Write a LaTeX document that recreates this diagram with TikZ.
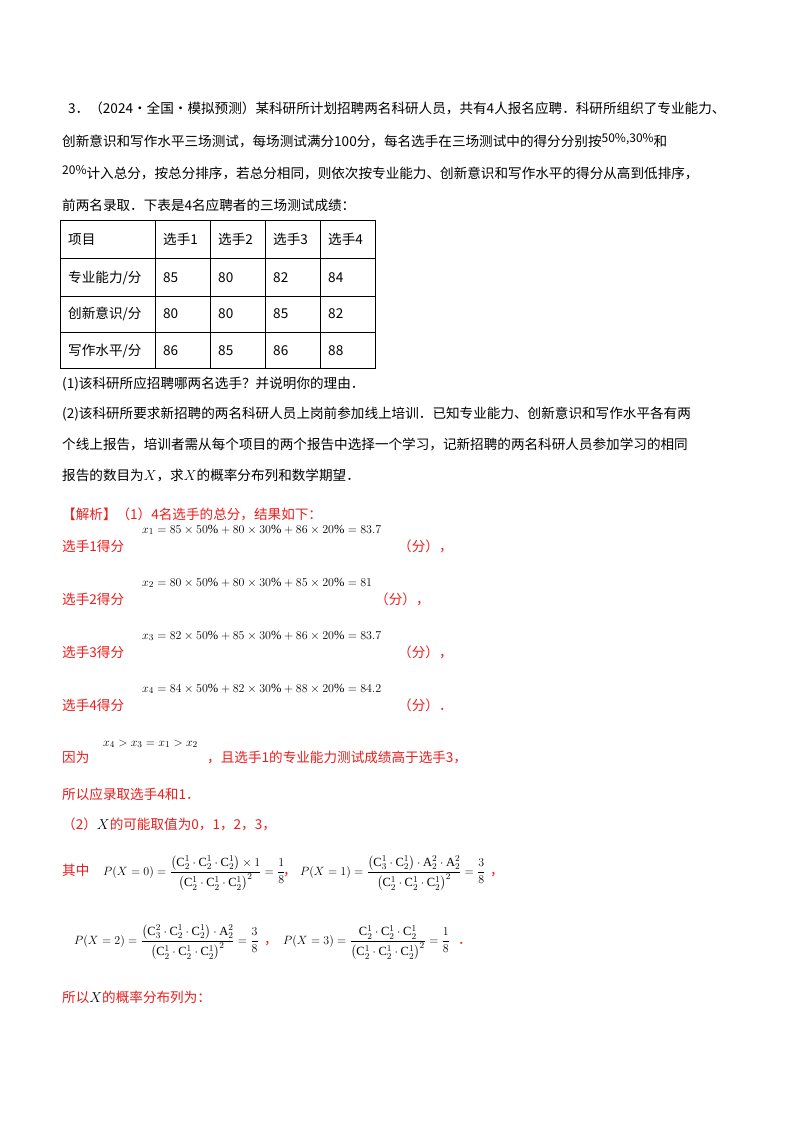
\documentclass[tikz,border=0pt]{standalone}
\usepackage{fontspec}
\setmainfont{Liberation Serif}
\newfontfamily\cjk{Noto Sans CJK SC}
\usepackage{amsmath}
\definecolor{ansred}{RGB}{235,30,30}
\newcommand{\pct}[1]{\raisebox{4pt}{\fontsize{12}{14}\selectfont #1}}
\begin{document}
\begin{tikzpicture}[x=1pt,y=-1pt,
  txt/.style={anchor=base west,inner sep=0pt,font=\cjk\fontsize{13.6}{15}\selectfont},
  mth/.style={anchor=base west,inner sep=0pt,font=\fontsize{12.5}{14}\selectfont},
  rtxt/.style={txt,text=ansred},
  cell/.style={anchor=base west,inner sep=0pt,font=\cjk\fontsize{13.6}{15}\selectfont}]
\useasboundingbox (0,0) rectangle (800,1132);
\fill[white] (0,0) rectangle (800,1132);
\node[txt] (l1) at (68,113) {3．（2024·全国·模拟预测）某科研所计划招聘两名科研人员，共有4人报名应聘．科研所组织了专业能力、};
\node[txt] (l2) at (62,146) {创新意识和写作水平三场测试，每场测试满分100分，每名选手在三场测试中的得分分别按\pct{50\%,30\%}和};
\node[txt] (l3) at (62,178) {\pct{20\%}计入总分，按总分排序，若总分相同，则依次按专业能力、创新意识和写作水平的得分从高到低排序，};
\node[txt] (l4) at (62,210) {前两名录取．下表是4名应聘者的三场测试成绩：};
% table
\draw[thick] (60,220) rectangle (375,368);
\foreach \y in {258,296,332} \draw (60,\y) -- (375,\y);
\foreach \x in {155,210,265,320} \draw (\x,220) -- (\x,368);
\node[cell] (h0) at (68,244) {项目};
\node[cell] (h1) at (163,244) {选手1};
\node[cell] (h2) at (218,244) {选手2};
\node[cell] (h3) at (273,244) {选手3};
\node[cell] (h4) at (328,244) {选手4};
\node[cell] (r1) at (68,282) {专业能力/分};
\node[cell] (r2) at (68,318) {创新意识/分};
\node[cell] (r3) at (68,355) {写作水平/分};
\foreach \a/\b/\c/\d/\y in {85/80/82/84/282,80/80/85/82/318,86/85/86/88/355}{
  \node[cell] at (163,\y) {\a}; \node[cell] at (218,\y) {\b};
  \node[cell] at (273,\y) {\c}; \node[cell] at (328,\y) {\d};}
\node[txt] (q1) at (62,388) {(1)该科研所应招聘哪两名选手？并说明你的理由．};
\node[txt] (q2) at (62,418) {(2)该科研所要求新招聘的两名科研人员上岗前参加线上培训．已知专业能力、创新意识和写作水平各有两};
\node[txt] (q3) at (62,449) {个线上报告，培训者需从每个项目的两个报告中选择一个学习，记新招聘的两名科研人员参加学习的相同};
\node[txt] (q4) at (62,480) {报告的数目为$X$，求$X$的概率分布列和数学期望．};
\node[rtxt] (s0) at (62,519) {【解析】（1）4名选手的总分，结果如下：};
\node[rtxt] (s1) at (62,551) {选手1得分};
\node[mth] at (142,533) {$x_1=85\times50\%+80\times30\%+86\times20\%=83.7$};
\node[rtxt] at (398,551) {（分），};
\node[rtxt] (s2) at (62,604) {选手2得分};
\node[mth] at (142,586) {$x_2=80\times50\%+80\times30\%+85\times20\%=81$};
\node[rtxt] at (375,604) {（分），};
\node[rtxt] (s3) at (62,657) {选手3得分};
\node[mth] at (142,639) {$x_3=82\times50\%+85\times30\%+86\times20\%=83.7$};
\node[rtxt] at (398,657) {（分），};
\node[rtxt] (s4) at (62,710) {选手4得分};
\node[mth] at (142,692) {$x_4=84\times50\%+82\times30\%+88\times20\%=84.2$};
\node[rtxt] at (398,710) {（分）．};
\node[rtxt] (y1) at (62,762) {因为};
\node[mth] at (103,746) {$x_4>x_3=x_1>x_2$};
\node[rtxt] at (207,762) {，且选手1的专业能力测试成绩高于选手3，};
\node[rtxt] (y2) at (62,799) {所以应录取选手4和1．};
\node[rtxt] (p2) at (62,829) {（2）\textcolor{black}{$X$}的可能取值为0，1，2，3，};
\node[rtxt] (qz) at (62,875) {其中};
\node[mth] at (103,875) {$P(X=0)=\dfrac{\left(\mathrm{C}_2^1\cdot\mathrm{C}_2^1\cdot\mathrm{C}_2^1\right)\times1}{\left(\mathrm{C}_2^1\cdot\mathrm{C}_2^1\cdot\mathrm{C}_2^1\right)^2}=\dfrac18$};
\node[rtxt] at (283,875) {，};
\node[mth] at (300,875) {$P(X=1)=\dfrac{\left(\mathrm{C}_3^1\cdot\mathrm{C}_2^1\right)\cdot\mathrm{A}_2^2\cdot\mathrm{A}_2^2}{\left(\mathrm{C}_2^1\cdot\mathrm{C}_2^1\cdot\mathrm{C}_2^1\right)^2}=\dfrac38$};
\node[rtxt] at (490,875) {，};
\node[mth] at (74,944) {$P(X=2)=\dfrac{\left(\mathrm{C}_3^2\cdot\mathrm{C}_2^1\cdot\mathrm{C}_2^1\right)\cdot\mathrm{A}_2^2}{\left(\mathrm{C}_2^1\cdot\mathrm{C}_2^1\cdot\mathrm{C}_2^1\right)^2}=\dfrac38$};
\node[rtxt] at (264,944) {，};
\node[mth] at (283,944) {$P(X=3)=\dfrac{\mathrm{C}_2^1\cdot\mathrm{C}_2^1\cdot\mathrm{C}_2^1}{\left(\mathrm{C}_2^1\cdot\mathrm{C}_2^1\cdot\mathrm{C}_2^1\right)^2}=\dfrac18$};
\node[rtxt] at (458,944) {．};
\node[rtxt] (last) at (62,1002) {所以\textcolor{black}{$X$}的概率分布列为：};
\end{tikzpicture}
\end{document}
